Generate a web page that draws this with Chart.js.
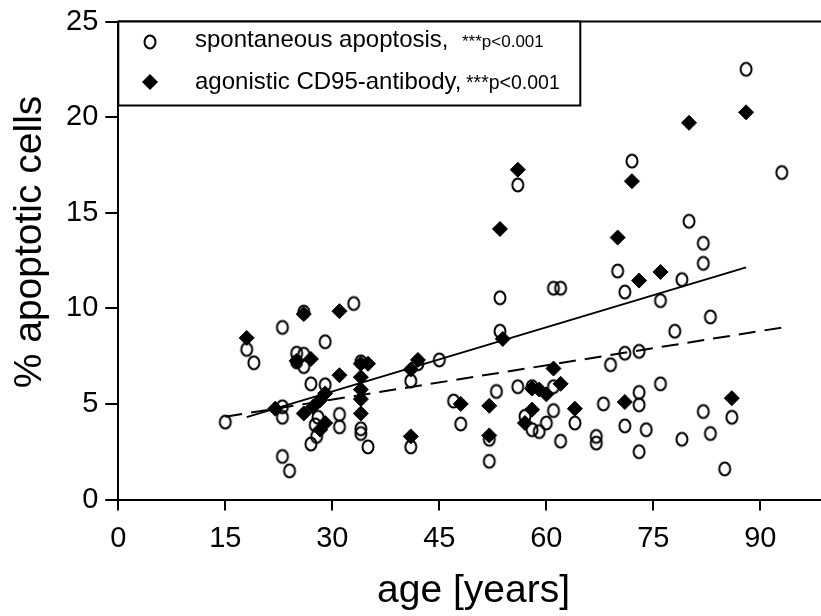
<!DOCTYPE html>
<html>
<head>
<meta charset="utf-8">
<script src="https://cdn.jsdelivr.net/npm/chart.js@4/dist/chart.umd.min.js"></script>
<style>
  html, body { margin: 0; padding: 0; background: #fff; }
  #wrap { width: 821px; height: 616px; }
</style>
</head>
<body>
<div id="wrap"><canvas id="c" width="821" height="616"></canvas></div>
<script>
// Spontaneous apoptosis: [age in years, % apoptotic cells]
const spontaneous = [
  [88, 22.5], [72, 17.7], [93, 17.1], [80, 14.55], [82, 13.4], [82, 12.35],
  [70, 11.95], [79, 11.5], [71, 10.85], [76, 10.4], [83, 9.55], [78, 8.8],
  [71, 7.65], [73, 7.75], [69, 7.05], [76, 6.05], [73, 5.6], [68, 5.0],
  [73, 4.95], [82, 4.6], [86, 4.3], [71, 3.85], [74, 3.65], [83, 3.45],
  [79, 3.15], [73, 2.5], [85, 1.6], [67, 3.3], [67, 2.95],
  [56, 16.45], [53.5, 10.55], [61, 11.05], [62, 11.05], [53.5, 8.8],
  [42, 7.1], [45, 7.3], [41, 6.2], [61, 5.9], [56, 5.9], [58, 5.9],
  [53, 5.65], [47, 5.15], [48, 3.95], [41, 2.75], [52, 3.15], [52, 2.0],
  [61, 4.65], [57, 4.35], [60, 4.0], [58, 3.65], [59, 3.55], [64, 4.0], [62, 3.05],
  [33, 10.25], [23, 9.0], [29, 8.25], [18, 7.85], [19, 7.15], [25, 7.65],
  [26, 7.6], [25, 7.2], [26, 6.95], [27, 6.05], [29, 6.0], [23, 4.85],
  [23, 4.3], [28, 4.3], [27.6, 3.9], [27.8, 3.3], [27, 2.9], [31, 4.45],
  [31, 3.8], [23, 2.25], [24, 1.5], [15, 4.05], [34, 7.2], [34, 3.7],
  [34, 3.45], [35, 2.75], [26, 9.8]
];

// Agonistic CD95-antibody: [age in years, % apoptotic cells]
const cd95 = [
  [88, 20.25], [80, 19.7], [72, 16.65], [70, 13.7], [73, 11.45], [76, 11.9],
  [71, 5.1], [86, 5.3], [56, 17.25], [53.5, 14.15], [53.9, 8.4], [42, 7.3],
  [41, 6.8], [61, 6.85], [62, 6.05], [58, 5.8], [59, 5.75], [60, 5.5],
  [48, 5.0], [52, 4.9], [41, 3.3], [52, 3.35], [58, 4.7], [57, 4.0], [64, 4.75],
  [18, 8.45], [26, 9.7], [31, 9.85], [25, 7.25], [27, 7.35], [31, 6.5],
  [29, 5.55], [28.3, 5.2], [27.3, 4.85], [26, 4.5], [22, 4.75], [29, 4.0],
  [28.3, 3.65], [34, 7.1], [34, 6.4], [34, 5.75], [34, 5.25], [34, 4.5], [35, 7.1]
];

// Regression lines (end points)
const fitCd95 = [[18, 4.31], [88, 12.14]];
const fitSpontaneous = [[15, 4.33], [93, 8.99]];

const xTicks = [0, 15, 30, 45, 60, 75, 90];
const yTicks = [0, 5, 10, 15, 20, 25];

const xTitle = 'age [years]';
const yTitle = '% apoptotic cells';

const legendItems = [
  { label: 'spontaneous apoptosis,', note: '***p<0.001' },
  { label: 'agonistic CD95-antibody,', note: '***p<0.001' }
];

const FONT = '"Liberation Sans", Arial, Helvetica, sans-serif';
const toXY = arr => arr.map(([x, y]) => ({ x, y }));

// Open oval marker
function makeOval() {
  const c = document.createElement('canvas');
  c.width = 18; c.height = 20;
  const g = c.getContext('2d');
  g.lineWidth = 2;
  g.strokeStyle = '#000';
  g.beginPath();
  g.ellipse(9, 10, 5.5, 6.4, 0, 0, Math.PI * 2);
  g.stroke();
  return c;
}
const oval = makeOval();

// Top frame line, inset legend box and the two axis titles
const frameAndLegend = {
  id: 'frameAndLegend',
  afterDatasetsDraw(chart) {
    const { ctx, chartArea } = chart;
    const top = chart.scales.y.getPixelForValue(25);
    ctx.save();
    ctx.strokeStyle = '#000';
    ctx.lineWidth = 2;
    ctx.beginPath();
    ctx.moveTo(chartArea.left, top);
    ctx.lineTo(chart.width, top);
    ctx.stroke();

    ctx.fillStyle = '#fff';
    ctx.fillRect(chartArea.left, top, 462, 84);
    ctx.strokeRect(chartArea.left, top, 462, 84);

    ctx.drawImage(oval, 150 - 9, 42 - 10);
    ctx.fillStyle = '#000';
    ctx.beginPath();
    ctx.moveTo(150, 74); ctx.lineTo(158, 82); ctx.lineTo(150, 90); ctx.lineTo(142, 82);
    ctx.closePath(); ctx.fill();

    ctx.textBaseline = 'alphabetic';
    ctx.textAlign = 'left';
    ctx.font = '24px ' + FONT;
    ctx.fillText(legendItems[0].label, 195, 47);
    ctx.fillText(legendItems[1].label, 195, 88.5);
    ctx.font = '17px ' + FONT;
    ctx.fillText(legendItems[0].note, 462, 47);
    ctx.font = '19.5px ' + FONT;
    ctx.fillText(legendItems[1].note, 466, 88.5);

    ctx.font = '39px ' + FONT;
    ctx.textAlign = 'center';
    ctx.textBaseline = 'middle';
    ctx.fillText(xTitle, 473.5, 591);
    ctx.translate(30, 242);
    ctx.rotate(-Math.PI / 2);
    ctx.fillText(yTitle, 0, 0);
    ctx.restore();
  }
};

new Chart(document.getElementById('c'), {
  type: 'scatter',
  data: {
    datasets: [
      {
        label: 'agonistic CD95-antibody',
        data: toXY(cd95),
        pointStyle: 'rectRot',
        pointRadius: 7.5,
        pointBorderWidth: 1,
        backgroundColor: '#000',
        borderColor: '#000',
        order: 1
      },
      {
        label: 'spontaneous apoptosis',
        data: toXY(spontaneous),
        pointStyle: oval,
        pointRadius: 7,
        order: 2
      },
      {
        label: 'CD95 fit',
        data: toXY(fitCd95),
        showLine: true,
        pointRadius: 0,
        borderColor: '#000',
        borderWidth: 2,
        order: 3
      },
      {
        label: 'spontaneous fit',
        data: toXY(fitSpontaneous),
        showLine: true,
        pointRadius: 0,
        borderColor: '#000',
        borderWidth: 2,
        borderDash: [17, 9],
        order: 4
      }
    ]
  },
  options: {
    responsive: false,
    animation: false,
    events: [],
    layout: { autoPadding: false, padding: { top: 21.5, right: 0, left: 0, bottom: 0 } },
    plugins: { legend: { display: false }, tooltip: { enabled: false } },
    scales: {
      x: {
        type: 'linear',
        min: 0,
        max: 98.5,
        afterBuildTicks: s => { s.ticks = xTicks.map(v => ({ value: v })); },
        afterFit: s => { s.height = 116.5; s.paddingLeft = 0; s.paddingRight = 0; },
        border: { color: '#000', width: 2 },
        grid: { drawOnChartArea: false, drawTicks: true, tickLength: 11, color: '#000', lineWidth: 2 },
        ticks: { color: '#000', font: { family: FONT, size: 29 }, padding: 11, maxRotation: 0 }
      },
      y: {
        type: 'linear',
        min: 0,
        max: 25,
        afterBuildTicks: s => { s.ticks = yTicks.map(v => ({ value: v })); },
        afterFit: s => { s.width = 118.3; s.paddingTop = 0; s.paddingBottom = 0; },
        border: { color: '#000', width: 2 },
        grid: { drawOnChartArea: false, drawTicks: true, tickLength: 13, color: '#000', lineWidth: 2 },
        ticks: { color: '#000', font: { family: FONT, size: 29 }, padding: 7 }
      }
    }
  },
  plugins: [frameAndLegend]
});
</script>
</body>
</html>
